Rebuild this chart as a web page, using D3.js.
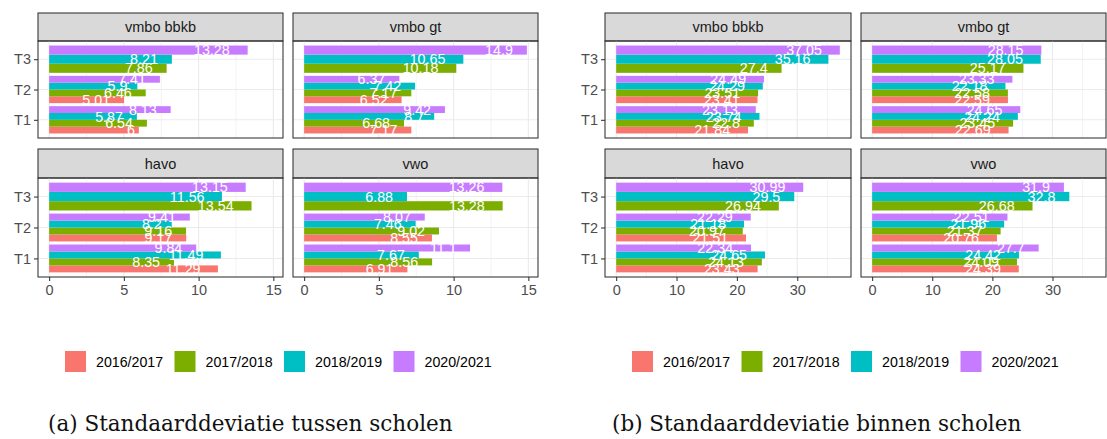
<!DOCTYPE html>
<html>
<head>
<meta charset="utf-8">
<script src="https://cdn.jsdelivr.net/npm/d3@7"></script>
<style>
  body { margin: 0; background: #fff; }
  svg text { font-family: "Liberation Sans", Arial, sans-serif; }
</style>
</head>
<body>
<svg id="chart" width="1107" height="439"></svg>
<script>
const facets = ["vmbo bbkb", "vmbo gt", "havo", "vwo"]
const periods = ["T1", "T2", "T3"]
const years = ["2016/2017", "2017/2018", "2018/2019", "2020/2021"]
const colors = ["#F8766D", "#7CAE00", "#00BFC4", "#C77CFF"]

// rows = T1, T2, T3; columns = years (null = no data)
const tussenBbkb = [[6, 6.54, 5.87, 8.13], [5.01, 6.46, 5.9, 7.41], [null, 7.86, 8.21, 13.28]]
const tussenGt = [[7.17, 6.68, 8.7, 9.42], [6.52, 7.17, 7.42, 6.37], [null, 10.18, 10.65, 14.9]]
const tussenHavo = [[11.29, 8.35, 11.49, 9.84], [9.17, 9.16, 8.2, 9.41], [null, 13.54, 11.56, 13.15]]
const tussenVwo = [[6.91, 8.56, 7.67, 11.1], [8.55, 9.02, 7.46, 8.07], [null, 13.28, 6.88, 13.26]]

const binnenBbkb = [[21.84, 22.8, 23.74, 23.13], [23.41, 23.51, 24.29, 24.49], [null, 27.4, 35.16, 37.05]]
const binnenGt = [[22.69, 23.45, 24.24, 24.65], [22.59, 22.58, 22.18, 23.33], [null, 25.17, 28.05, 28.15]]
const binnenHavo = [[23.43, 24.13, 24.65, 22.34], [21.51, 20.97, 21.18, 22.29], [null, 26.94, 29.5, 30.99]]
const binnenVwo = [[24.39, 24.09, 24.42, 27.7], [20.76, 21.37, 21.96, 22.51], [null, 26.68, 32.8, 31.9]]

const tussenTicks = [0, 5, 10, 15]
const binnenTicks = [0, 10, 20, 30]

const svg = d3.select("#chart")
let clipId = 0

function drawChart(opts) {
  const { data, ticks, step, cols, caption, legendX, captionX } = opts
  const rows = [[13, 41, 138], [149, 178, 277]]
  const maxV = d3.max(data.flat(2))
  const pad = maxV * 0.05
  const minors = d3.range(ticks[0] - step / 2, maxV + pad, step).filter(v => v > -pad)

  data.forEach((facetData, fi) => {
    const [x0, x1] = cols[fi % 2]
    const [sTop, bTop, bBot] = rows[Math.floor(fi / 2)]

    const x = d3.scaleLinear().domain([-pad, maxV + pad]).range([x0, x1])
    const y = d3.scalePoint().domain(periods).range([bBot, bTop]).padding(0.6)
    const bw = y.step() * 0.9

    const g = svg.append("g")

    // strip
    g.append("rect")
      .attr("x", x0).attr("y", sTop).attr("width", x1 - x0).attr("height", bTop - sTop)
      .attr("fill", "#D9D9D9").attr("stroke", "#333").attr("stroke-width", 1.07)
    g.append("text")
      .attr("x", (x0 + x1) / 2).attr("y", (sTop + bTop) / 2).attr("dy", "0.35em")
      .attr("text-anchor", "middle").attr("font-size", 14.5).attr("fill", "#1A1A1A")
      .text(facets[fi])

    // grid
    g.selectAll(".minor").data(minors).enter().append("line")
      .attr("x1", d => x(d)).attr("x2", d => x(d)).attr("y1", bTop).attr("y2", bBot)
      .attr("stroke", "#EBEBEB").attr("stroke-width", 0.6)
    g.selectAll(".major").data(ticks).enter().append("line")
      .attr("x1", d => x(d)).attr("x2", d => x(d)).attr("y1", bTop).attr("y2", bBot)
      .attr("stroke", "#EBEBEB").attr("stroke-width", 1.1)
    g.selectAll(".hmajor").data(periods).enter().append("line")
      .attr("x1", x0).attr("x2", x1).attr("y1", d => y(d)).attr("y2", d => y(d))
      .attr("stroke", "#EBEBEB").attr("stroke-width", 1.1)

    const id = "clip" + (clipId++)
    svg.append("clipPath").attr("id", id).append("rect")
      .attr("x", x0).attr("y", bTop).attr("width", x1 - x0).attr("height", bBot - bTop)

    const bars = []
    periods.forEach((p, pi) => {
      const present = years.filter((yr, yi) => facetData[pi][yi] != null)
      // first year at the bottom of the group
      const inner = d3.scaleBand().domain(present)
        .range([y(p) + bw / 2, y(p) - bw / 2])
      present.forEach(yr => {
        const yi = years.indexOf(yr)
        bars.push({ v: facetData[pi][yi], color: colors[yi], y: inner(yr), h: inner.bandwidth() })
      })
    })

    const pg = g.append("g").attr("clip-path", `url(#${id})`)
    pg.selectAll("rect").data(bars).enter().append("rect")
      .attr("x", x(0)).attr("width", d => x(d.v) - x(0))
      .attr("y", d => d.y).attr("height", d => d.h)
      .attr("fill", d => d.color)

    pg.selectAll("text").data(bars).enter().append("text")
      .attr("y", d => d.y + d.h / 2).attr("dy", "0.36em")
      .attr("font-size", 14.3).attr("fill", "white").attr("text-anchor", "middle")
      .text(d => d.v)
      .each(function (d) {
        const w = this.getComputedTextLength()
        d3.select(this).attr("x", x(d.v) - w)
      })

    // border
    g.append("rect")
      .attr("x", x0).attr("y", bTop).attr("width", x1 - x0).attr("height", bBot - bTop)
      .attr("fill", "none").attr("stroke", "#333").attr("stroke-width", 1.07)

    // y axis
    if (fi % 2 === 0) {
      const ya = g.append("g").attr("transform", `translate(${x0},0)`)
        .call(d3.axisLeft(y).tickSize(4).tickPadding(3))
      ya.select(".domain").remove()
      ya.selectAll("line").attr("stroke", "#333").attr("stroke-width", 1.07)
      ya.selectAll("text").attr("font-size", 14.5).attr("fill", "#4D4D4D")
        .attr("font-family", "Liberation Sans, Arial, sans-serif")
    }
    // x axis
    if (fi >= 2) {
      const xa = g.append("g").attr("transform", `translate(0,${bBot})`)
        .call(d3.axisBottom(x).tickValues(ticks).tickSize(4).tickPadding(4))
      xa.select(".domain").remove()
      xa.selectAll("line").attr("stroke", "#333").attr("stroke-width", 1.07)
      xa.selectAll("text").attr("font-size", 14.5).attr("fill", "#4D4D4D")
        .attr("font-family", "Liberation Sans, Arial, sans-serif")
    }
  })

  // legend
  const lg = svg.append("g").attr("transform", `translate(${legendX},351)`)
  const items = lg.selectAll("g").data(years).enter().append("g")
    .attr("transform", (d, i) => `translate(${i * 109.5},0)`)
  items.append("rect").attr("width", 21).attr("height", 21)
    .attr("fill", (d, i) => colors[i])
  items.append("text").attr("x", 31).attr("y", 10.5).attr("dy", "0.36em")
    .attr("font-size", 14.2).attr("fill", "#000").text(d => d)

  svg.append("text")
    .attr("x", captionX).attr("y", 431)
    .attr("font-size", 21.5).attr("fill", "#111")
    .style("font-family", "'DejaVu Serif', serif")
    .text(caption)
}

drawChart({
  data: [tussenBbkb, tussenGt, tussenHavo, tussenVwo],
  ticks: tussenTicks, step: 5,
  cols: [[38, 283], [293, 538]],
  legendX: 65, captionX: 48,
  caption: "(a) Standaarddeviatie tussen scholen"
})

drawChart({
  data: [binnenBbkb, binnenGt, binnenHavo, binnenVwo],
  ticks: binnenTicks, step: 10,
  cols: [[605, 851], [861, 1106]],
  legendX: 632, captionX: 612,
  caption: "(b) Standaarddeviatie binnen scholen"
})
</script>
</body>
</html>
